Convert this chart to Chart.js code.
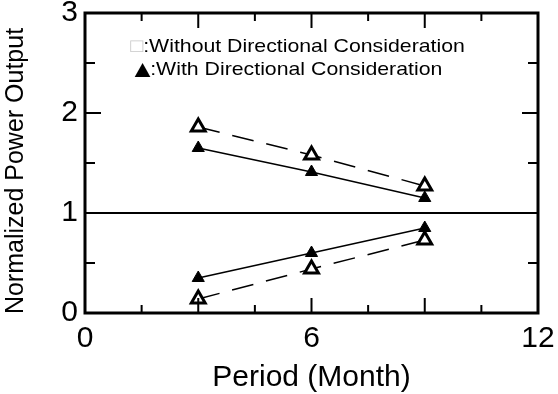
<!DOCTYPE html>
<html>
<head>
<meta charset="utf-8">
<script src="https://cdn.jsdelivr.net/npm/chart.js@4/dist/chart.umd.min.js"></script>
<style>
  html, body { margin: 0; padding: 0; background: #fff; }
  #wrap { width: 558px; height: 394px; }
</style>
</head>
<body>
<div id="wrap"><canvas id="chart" width="558" height="394"></canvas></div>
<script>
// data
const months = [3, 6, 9];
const withoutUpper = [1.86, 1.58, 1.27];
const withUpper = [1.65, 1.41, 1.15];
const withLower = [0.35, 0.6, 0.85];
const withoutLower = [0.14, 0.44, 0.73];
const xTicks = [0, 6, 12];
const yTicks = [0, 1, 2, 3];
const legendLines = ['\u25A1:Without Directional Consideration', '\u25B2:With Directional Consideration'];
const yTitle = 'Normalized Power Output';

const FONT = '"Liberation Sans", Arial, sans-serif';
const pts = (ys) => months.map((m, i) => ({ x: m, y: ys[i] }));

const openTri = {
  pointStyle: 'triangle', pointRadius: 8, pointBackgroundColor: '#fff',
  pointBorderColor: '#000', pointBorderWidth: 3,
  borderColor: '#000', borderWidth: 1.5, borderDash: [22, 13]
};
const filledTri = {
  pointStyle: 'triangle', pointRadius: 7, pointBackgroundColor: '#000',
  pointBorderColor: '#000', pointBorderWidth: 1,
  borderColor: '#000', borderWidth: 1.5
};

// frame, inward ticks, y title and legend text
const framePlugin = {
  id: 'frame',
  afterDatasetsDraw(chart) {
    const { ctx, chartArea: a, scales: { x, y } } = chart;
    ctx.save();
    ctx.strokeStyle = '#000';
    ctx.lineWidth = 2;
    for (let v = 0; v <= 12; v += 1.5) {
      const px = x.getPixelForValue(v);
      const len = v % 3 === 0 ? 15 : 8;
      ctx.beginPath();
      ctx.moveTo(px, a.bottom); ctx.lineTo(px, a.bottom - len);
      ctx.moveTo(px, a.top); ctx.lineTo(px, a.top + len);
      ctx.stroke();
    }
    for (let v = 0; v <= 3; v += 0.5) {
      const py = y.getPixelForValue(v);
      const len = v % 1 === 0 ? 16 : 10;
      ctx.beginPath();
      ctx.moveTo(a.left, py); ctx.lineTo(a.left + len, py);
      ctx.moveTo(a.right, py); ctx.lineTo(a.right - len, py);
      ctx.stroke();
    }
    ctx.lineWidth = 3;
    ctx.strokeRect(a.left, a.top, a.right - a.left, a.bottom - a.top);

    // y axis title, sits a bit below the middle in the original
    ctx.save();
    ctx.translate(16, (a.top + a.bottom) / 2 + 8);
    ctx.rotate(-Math.PI / 2);
    ctx.font = '25px ' + FONT;
    ctx.fillStyle = '#000';
    ctx.textAlign = 'center';
    ctx.textBaseline = 'middle';
    ctx.fillText(yTitle, 0, 0);
    ctx.restore();

    // legend text, slightly wide like the scanned original
    const lx = x.getPixelForValue(1.2);
    const ly1 = y.getPixelForValue(2.66);
    const ly2 = y.getPixelForValue(2.43);
    const sx = 1.12;
    ctx.translate(lx, 0);
    ctx.scale(sx, 1);
    ctx.textBaseline = 'middle';
    ctx.font = '19px ' + FONT;
    ctx.fillStyle = '#c8c8c8';
    ctx.fillText(legendLines[0].charAt(0), 0, ly1);
    const w0 = ctx.measureText(legendLines[0].charAt(0)).width;
    ctx.fillStyle = '#000';
    ctx.fillText(legendLines[0].slice(1), w0, ly1);
    // bigger marker glyph on the second line
    ctx.font = '24px ' + FONT;
    ctx.fillText(legendLines[1].charAt(0), -1, ly2);
    const w1 = ctx.measureText(legendLines[1].charAt(0)).width;
    ctx.font = '19px ' + FONT;
    ctx.fillText(legendLines[1].slice(1), w1 - 6, ly2);
    ctx.restore();
  }
};

new Chart(document.getElementById('chart'), {
  type: 'scatter',
  data: {
    datasets: [
      { data: [{ x: 0, y: 1 }, { x: 12, y: 1 }], showLine: true, pointRadius: 0, borderColor: '#000', borderWidth: 2 },
      Object.assign({ data: pts(withUpper), showLine: true }, filledTri),
      Object.assign({ data: pts(withLower), showLine: true }, filledTri),
      Object.assign({ data: pts(withoutUpper), showLine: true }, openTri),
      Object.assign({ data: pts(withoutLower), showLine: true }, openTri)
    ]
  },
  options: {
    responsive: false,
    animation: false,
    layout: { padding: { top: 13, right: 20, left: 0, bottom: 0 } },
    plugins: { legend: { display: false }, tooltip: { enabled: false } },
    scales: {
      x: {
        type: 'linear', min: 0, max: 12,
        afterBuildTicks: (s) => { s.ticks = xTicks.map(v => ({ value: v })); },
        grid: { display: false, drawTicks: false },
        border: { display: false },
        ticks: { color: '#000', padding: 8, font: { family: FONT, size: 30 } },
        title: { display: true, text: 'Period (Month)', color: '#000', padding: { top: 0, bottom: 1 },
                 font: { family: FONT, size: 30, lineHeight: 1 } },
        afterFit: (s) => { s.height = 81; s.paddingLeft = 0; s.paddingRight = 0; }
      },
      y: {
        min: 0, max: 3,
        afterBuildTicks: (s) => { s.ticks = yTicks.map(v => ({ value: v })); },
        grid: { display: false, drawTicks: false },
        border: { display: false },
        ticks: { color: '#000', padding: 7, font: { family: FONT, size: 30 } },
        afterFit: (s) => { s.width = 85; s.paddingTop = 0; s.paddingBottom = 0; }
      }
    }
  },
  plugins: [framePlugin]
});
</script>
</body>
</html>
